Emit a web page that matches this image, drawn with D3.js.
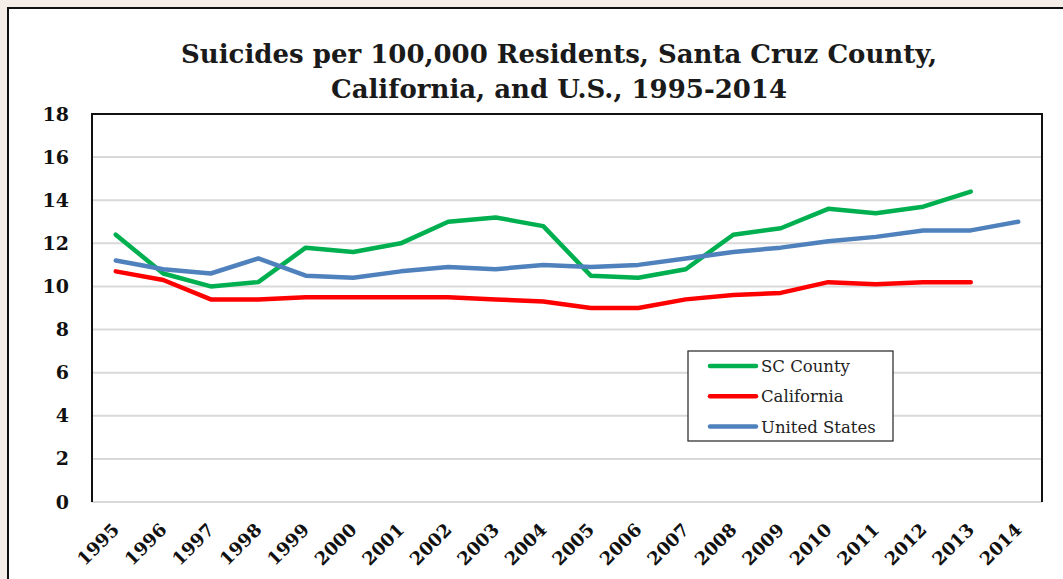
<!DOCTYPE html>
<html>
<head>
<meta charset="utf-8">
<script src="https://cdn.jsdelivr.net/npm/d3@7/dist/d3.min.js"></script>
<style>
html,body{margin:0;padding:0;background:#f5eee8;}
svg{display:block;}
</style>
</head>
<body>
<svg id="chart" width="1063" height="579"></svg>
<script>
const years = ["1995","1996","1997","1998","1999","2000","2001","2002","2003","2004","2005","2006","2007","2008","2009","2010","2011","2012","2013","2014"];
const scCounty = [12.4,10.6,10.0,10.2,11.8,11.6,12.0,13.0,13.2,12.8,10.5,10.4,10.8,12.4,12.7,13.6,13.4,13.7,14.4,null];
const california = [10.7,10.3,9.4,9.4,9.5,9.5,9.5,9.5,9.4,9.3,9.0,9.0,9.4,9.6,9.7,10.2,10.1,10.2,10.2,null];
const unitedStates = [11.2,10.8,10.6,11.3,10.5,10.4,10.7,10.9,10.8,11.0,10.9,11.0,11.3,11.6,11.8,12.1,12.3,12.6,12.6,13.0];
const yTicks = [0,2,4,6,8,10,12,14,16,18];
const seriesNames = ["SC County","California","United States"];
const seriesColors = ["#00b050","#ff0000","#4f81bd"];
const titleLines = ["Suicides per 100,000 Residents, Santa Cruz County,","California, and U.S., 1995-2014"];

const series = [scCounty, california, unitedStates].map((vals,i)=>({name:seriesNames[i], color:seriesColors[i], values:vals}));

const svg = d3.select("#chart");
const plot = {left:92, right:1042, top:114, bottom:502};

// outer white panel with black frame
svg.append("rect").attr("x",8).attr("y",8).attr("width",1070).attr("height",600)
  .attr("fill","#ffffff").attr("stroke","#111").attr("stroke-width",2);

const x = d3.scalePoint().domain(years).range([plot.left, plot.right]).padding(0.5);
const y = d3.scaleLinear().domain([0,18]).range([plot.bottom, plot.top]);

// gridlines
svg.append("g").selectAll("line").data(yTicks).join("line")
  .attr("x1",plot.left).attr("x2",plot.right)
  .attr("y1",d=>y(d)).attr("y2",d=>y(d))
  .attr("stroke","#d9d9d9").attr("stroke-width",2);

// plot border (top, left, right)
svg.append("path")
  .attr("d",`M${plot.left},${plot.bottom}V${plot.top}H${plot.right}V${plot.bottom}`)
  .attr("fill","none").attr("stroke","#111").attr("stroke-width",2);

// y axis labels
const yAxis = d3.axisLeft(y).tickValues(yTicks).tickSize(0).tickPadding(23);
const yg = svg.append("g").attr("transform",`translate(${plot.left},0)`).call(yAxis);
yg.select(".domain").remove();
yg.selectAll("text").attr("font-family","DejaVu Serif").attr("font-weight","bold")
  .attr("font-size",19).attr("fill","#111");

// x axis labels
const xAxis = d3.axisBottom(x).tickSize(0).tickPadding(0);
const xg = svg.append("g").attr("transform",`translate(0,${plot.bottom})`).call(xAxis);
xg.select(".domain").remove();
xg.selectAll("text")
  .attr("font-family","DejaVu Serif").attr("font-weight","bold").attr("font-size",18)
  .attr("fill","#111").attr("text-anchor","end").attr("dy",null).attr("y",null)
  .attr("transform","translate(4,29) rotate(-45)");

// lines
const line = d3.line().defined(d=>d!=null).x((d,i)=>x(years[i])).y(d=>y(d));
svg.append("g").selectAll("path").data(series).join("path")
  .attr("d",d=>line(d.values))
  .attr("fill","none").attr("stroke",d=>d.color).attr("stroke-width",4.5)
  .attr("stroke-linejoin","round").attr("stroke-linecap","round");

// legend
const lg = svg.append("g");
lg.append("rect").attr("x",688).attr("y",351).attr("width",205).attr("height",90)
  .attr("fill","#fff").attr("stroke","#333").attr("stroke-width",1.3);
const items = lg.selectAll("g.item").data(series).join("g").attr("class","item")
  .attr("transform",(d,i)=>`translate(0,${366+i*30.3})`);
items.append("line").attr("x1",710).attr("x2",756).attr("y1",0).attr("y2",0)
  .attr("stroke",d=>d.color).attr("stroke-width",4.5).attr("stroke-linecap","round");
items.append("text").attr("x",761).attr("y",6).text(d=>d.name)
  .attr("font-family","DejaVu Serif").attr("font-size",16.5).attr("fill","#222");

// title
const tg = svg.append("g");
const t = tg.selectAll("text").data(titleLines).join("text")
  .attr("x",559).attr("y",(d,i)=>63+i*35).attr("text-anchor","middle")
  .attr("font-family","DejaVu Serif").attr("font-weight","bold").attr("font-size",24)
  .attr("fill","#1a1a1a").text(d=>d);
// fit title width to the reference width
const w0 = t.nodes()[0].getComputedTextLength();
const fs = 24*756/w0;
t.attr("font-size",fs);
</script>
</body>
</html>
